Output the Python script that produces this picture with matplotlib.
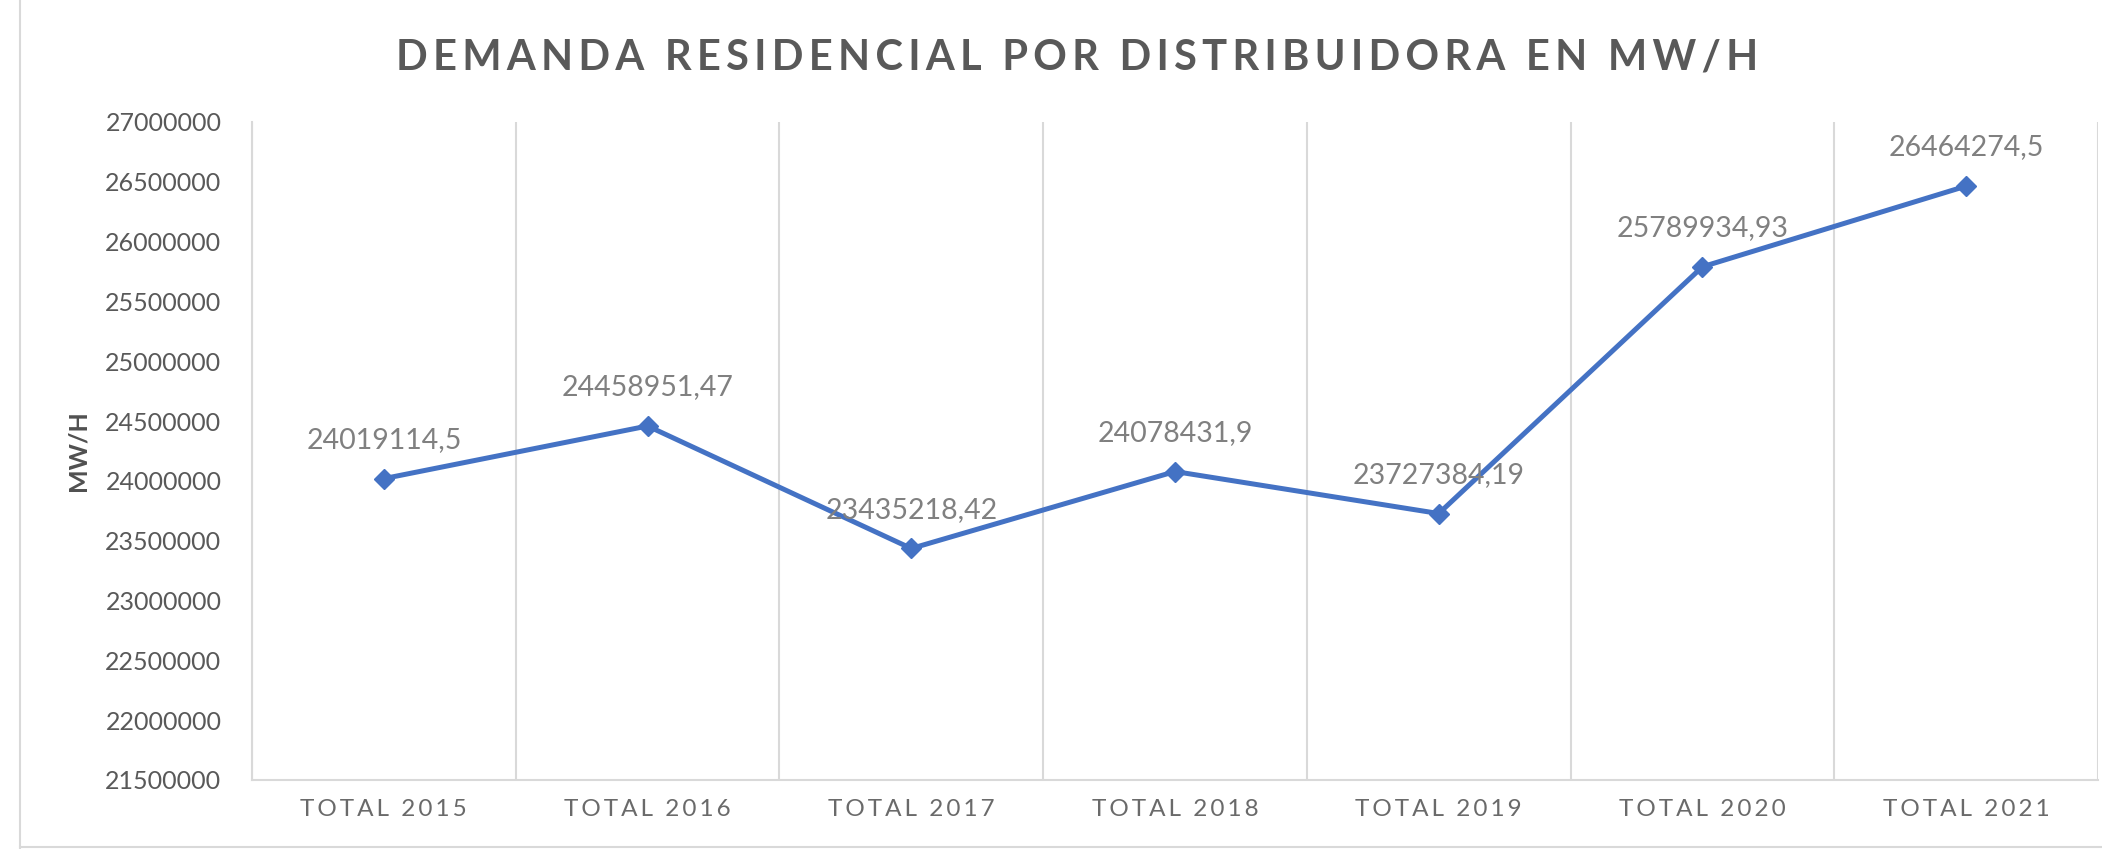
import matplotlib
matplotlib.use('Agg')
import matplotlib.pyplot as plt
from matplotlib.lines import Line2D
import numpy as np

plt.rcParams['font.family'] = ['Lato', 'DejaVu Sans']

categorias = ['TOTAL 2015', 'TOTAL 2016', 'TOTAL 2017', 'TOTAL 2018', 'TOTAL 2019', 'TOTAL 2020', 'TOTAL 2021']
demanda = [24019114.5, 24458951.47, 23435218.42, 24078431.9, 23727384.19, 25789934.93, 26464274.5]
y_ticks = [21500000, 22000000, 22500000, 23000000, 23500000, 24000000, 24500000,
           25000000, 25500000, 26000000, 26500000, 27000000]
titulo = 'DEMANDA RESIDENCIAL POR DISTRIBUIDORA EN MW/H'

azul = '#4472C4'
gris_grid = '#d9d9d9'


def spaced(s, sep='\u200a'):
	# Excel usa espaciado entre letras, se imita con espacios finos
	return sep.join(s)


def etiqueta(v):
	return '{:.2f}'.format(v).rstrip('0').rstrip('.').replace('.', ',')


fig = plt.figure(figsize=(21.02, 8.49), dpi=100)
ax = fig.add_axes([252 / 2102, 69 / 849, 1846 / 2102, 658 / 849])

x = np.arange(len(categorias))
ax.plot(x, demanda, color=azul, linewidth=3.6, marker='D', markersize=10, zorder=3)

for xi, yi in zip(x, demanda):
	ax.annotate(etiqueta(yi), (xi, yi), xytext=(0, 28), textcoords='offset points',
	            ha='center', va='center', fontsize=20.5, color='#808080')

ax.set_xlim(-0.5, len(categorias) - 0.5)
ax.set_ylim(y_ticks[0], y_ticks[-1])
ax.set_yticks(y_ticks)
ax.set_yticklabels([str(t) for t in y_ticks], fontsize=18, color='#595959')
ax.set_xticks(x)
ax.set_xticklabels([spaced(c, '\u2009') for c in categorias], fontsize=17.5, color='#6a6a6a')
ax.set_xticks(np.arange(-0.5, len(categorias)), minor=True)
ax.tick_params(axis='both', which='both', length=0)
ax.tick_params(axis='y', pad=22)
ax.tick_params(axis='x', pad=14)
ax.grid(which='minor', axis='x', color=gris_grid, linewidth=1.5)

for side in ['top', 'right']:
	ax.spines[side].set_visible(False)
for side in ['left', 'bottom']:
	ax.spines[side].set_color(gris_grid)
	ax.spines[side].set_linewidth(1.5)

ax.set_ylabel('MW/H', fontsize=18, fontweight='bold', color='#505050')
ax.yaxis.set_label_coords(-0.0878, 0.5)

fig.text(1077 / 2102, 1 - 58 / 849, spaced(titulo, '\u200a\u200a'), ha='center', va='center',
         fontsize=30, fontweight='bold', color='#595959')

# marco exterior del grafico
fig.add_artist(Line2D([20 / 2102, 20 / 2102], [0, 1], color=gris_grid, linewidth=1.5))
fig.add_artist(Line2D([20 / 2102, 1], [2 / 849, 2 / 849], color=gris_grid, linewidth=1.5))

fig.savefig('out.png', dpi=100)
